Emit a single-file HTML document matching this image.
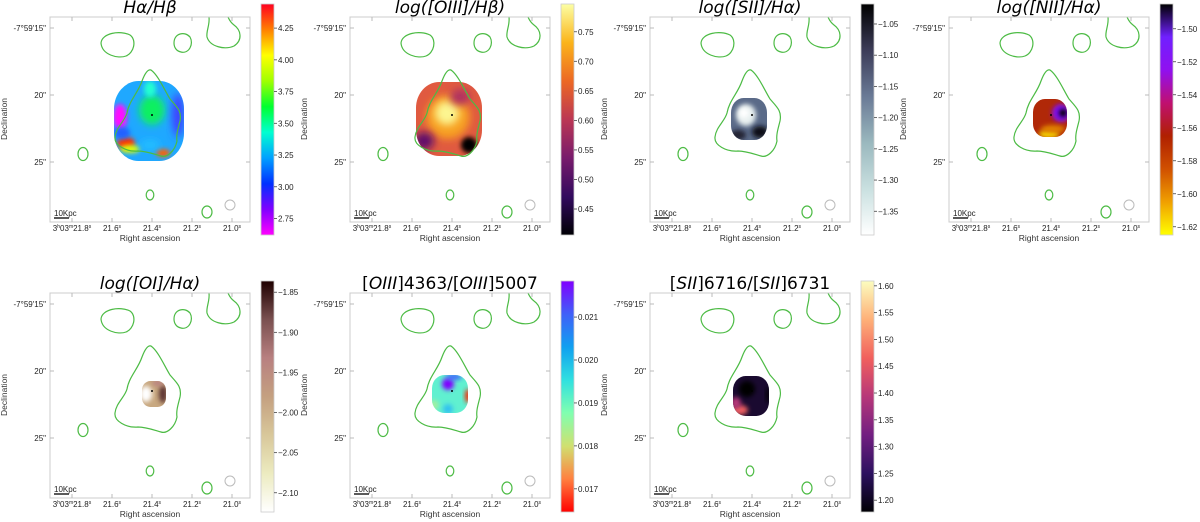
<!DOCTYPE html>
<html><head><meta charset="utf-8"><style>
html,body{margin:0;padding:0;background:#fff;}
svg{display:block;font-family:"Liberation Sans","DejaVu Sans",sans-serif;}
</style></head><body>
<svg id="fig" width="1200" height="522" viewBox="0 0 1200 522" xmlns="http://www.w3.org/2000/svg">
<defs>
<filter id="blur" x="-50%" y="-50%" width="200%" height="200%"><feGaussianBlur stdDeviation="4"/></filter>
<filter id="blur2" x="-50%" y="-50%" width="200%" height="200%"><feGaussianBlur stdDeviation="2.5"/></filter>
</defs>
</svg>
<script>
// ----- chart data -----
const panelTitles = ["Hα/Hβ","log([OIII]/Hβ)","log([SII]/Hα)","log([NII]/Hα)","log([OI]/Hα)","[OIII]4363/[OIII]5007","[SII]6716/[SII]6731"];
const panelX = [50,350,650,949,50,350,650];
const panelY = [17,17,17,17,293,293,293];
const cbarRanges = [[2.62,4.44],[0.406,0.797],[-1.388,-1.018],[-1.625,-1.485],[-2.124,-1.836],[0.01646,0.02184],[1.178,1.609]];
const cbarTicks = [
  [2.75,3.00,3.25,3.50,3.75,4.00,4.25],
  [0.45,0.50,0.55,0.60,0.65,0.70,0.75],
  [-1.35,-1.30,-1.25,-1.20,-1.15,-1.10,-1.05],
  [-1.62,-1.60,-1.58,-1.56,-1.54,-1.52,-1.50],
  [-2.10,-2.05,-2.00,-1.95,-1.90,-1.85],
  [0.017,0.018,0.019,0.020,0.021],
  [1.20,1.25,1.30,1.35,1.40,1.45,1.50,1.55,1.60]
];
const cbarDecimals = [2,2,2,2,2,3,2];
const cmaps = [
  ["#ff00ff","#8000ff","#0030ff","#00a0ff","#00ffd0","#00ff30","#a0ff00","#ffff00","#ff8000","#ff0020"],
  ["#000004","#320a5e","#781b6c","#bb3754","#ec6824","#fbb41a","#fcffa4"],
  ["#ffffff","#c9e0e0","#9ab8be","#6a7a96","#3c3c58","#000000"],
  ["#ffff00","#f0a000","#d05000","#b02000","#c01070","#9010f0","#7020ff","#000000"],
  ["#ffffff","#ecebc0","#d8c79a","#c4a080","#b88080","#7a5050","#1e0000"],
  ["#ff0000","#ff8040","#d0e070","#80ffb0","#30e0e0","#10a0f0","#4060f8","#8000ff"],
  ["#000004","#2c115f","#721f81","#b73779","#f1605d","#feb078","#fcfdbf"]
];
const xTickVals = [21.8,21.6,21.4,21.2,21.0];
const yTickVals = [15,20,25];
function xs(v){return 22 + (21.8 - v)/0.8*160;}
function ys(v){return 11 + (v-15)/10*134;}

const NS="http://www.w3.org/2000/svg";
const svg=document.getElementById('fig');
function mk(tag,attrs,parent){const e=document.createElementNS(NS,tag);for(const k in attrs)e.setAttribute(k,attrs[k]);(parent||svg).appendChild(e);return e;}
const defs=svg.querySelector('defs');

cmaps.forEach((c,i)=>{
  const g=mk('linearGradient',{id:'cm'+i,x1:0,y1:1,x2:0,y2:0},defs);
  c.forEach((col,j)=>mk('stop',{offset:(j/(c.length-1)),'stop-color':col},g));
});

const blobs = [
  {clip:[99,104,35,40],base:"#1fa8ff",spots:[[102,93,13,15,"#10f060","blur"],[100,72,6,8,"#20ffd0","blur2"],[70,100,7,13,"#ff10ff","blur2"],[76,126,9,6,"#ff3000","blur2"],[80,132,10,4,"#e0ff00","blur2"],[113,136,7,4,"#ff6000","blur2"],[128,98,6,22,"#4040ff","blur"],[72,116,8,6,"#2060ff","blur2"],[100,128,10,5,"#20c0ff","blur"]]},
  {clip:[99,102,33,37],base:"#e05a40",spots:[[98,100,22,22,"#f7a020","blur"],[97,96,12,12,"#fcf590","blur"],[74,124,10,9,"#60106a","blur"],[119,128,8,8,"#000004","blur2"],[110,80,10,8,"#b03060","blur"]]},
  {clip:[99,102,18,21],base:"#5a6a88",spots:[[96,98,10,11,"#e8f0f0","blur2"],[94,96,5,5,"#ffffff","blur2"],[110,115,8,6,"#101018","blur2"],[88,118,8,5,"#202030","blur2"]]},
  {clip:[101,101,17,19],base:"#b02808",spots:[[112,96,9,9,"#8010f0","blur2"],[114,96,4,4,"#000000","blur2"],[100,117,10,4,"#f8e000","blur2"],[104,112,12,4,"#e08000","blur2"]]},
  {clip:[104,101,12,13],base:"#c8a880",spots:[[96,101,6,8,"#ffffff","blur2"],[113,101,4,9,"#5a3030","blur2"],[108,90,6,3,"#b88080","blur2"]]},
  {clip:[100,101,18,19],base:"#60f0d0",spots:[[98,91,6,6,"#8000ff","blur2"],[104,84,8,3,"#4060ff","blur2"],[118,103,3,7,"#ff2000","blur2"],[98,116,5,5,"#30c0f0","blur2"],[84,112,5,5,"#a0f0a0","blur2"]]},
  {clip:[101,103,18,20],base:"#1a0a30",spots:[[90,117,8,5,"#f06060","blur2"],[86,110,5,6,"#b73779","blur2"],[97,96,8,8,"#000004","blur2"],[118,102,2,8,"#000000","blur2"]]}
];

const cbarX=[261,561,861,1160,261,561,861];
const cbarTop=[4,4,4,4,281,281,281];
const cbarH=231;

panelTitles.forEach((title,i)=>{
  const g=mk('g',{transform:`translate(${panelX[i]},${panelY[i]})`});
  
  
  const cp=mk('clipPath',{id:'clip'+i},defs);
  const b=blobs[i];
  mk('rect',{x:b.clip[0]-b.clip[2],y:b.clip[1]-b.clip[3],width:2*b.clip[2],height:2*b.clip[3],rx:b.clip[2]*0.7,ry:b.clip[3]*0.7},cp);
  const mg=mk('g',{'clip-path':`url(#clip${i})`},g);
  
  
  mk('rect',{x:0,y:0,width:200,height:205,fill:b.base},mg);
  b.spots.forEach(s=>mk('ellipse',{cx:s[0],cy:s[1],rx:s[2],ry:s[3],fill:s[4],filter:`url(#${s[5]})`},mg));
  mk('circle',{cx:102,cy:98,r:1,fill:'#000'},g);
  const cg=mk('g',{fill:'none',stroke:'#4cbb44','stroke-width':1.2},g);
  
  
  mk('path',{d:'M51,26 C52,16 70,13 80,18 C87,23 84,36 76,39 C68,42 52,38 51,26Z'},cg);
  mk('path',{d:'M124,26 C124,16 135,14 140,20 C144,27 139,37 131,35 C126,34 124,30 124,26Z'},cg);
  mk('path',{d:'M159,0 C160,8 156,14 157,20 C160,30 175,33 184,29 C193,23 191,13 184,8 C180,5 179,2 178,0'},cg);
  mk('path',{d:'M101,53 C108,58 114,72 120,82 C127,90 132,94 130,104 C128,112 126,118 127,124 C125,134 117,141 111,139 C104,137 96,134 88,134 C76,135 64,128 65,120 C66,110 75,104 77,96 C79,84 88,76 92,64 C95,56 98,52 101,53Z'},cg);
  mk('ellipse',{cx:33,cy:137,rx:5,ry:6.5},cg);
  mk('ellipse',{cx:100,cy:178,rx:3.8,ry:5},cg);
  mk('ellipse',{cx:157,cy:195,rx:5,ry:6},cg);
  const beam=mk('circle',{cx:180,cy:188,r:5,fill:'none',stroke:'#bbb','stroke-width':1},g);
  
  
  const sb=mk('line',{x1:4,y1:201,x2:19,y2:201,stroke:'#000','stroke-width':1.3},g);
  
  
  const st=mk('text',{x:4,y:199,'font-size':8,fill:'#222'},g);st.textContent='10Kpc';
  
  
  const fr=mk('rect',{x:0,y:0,width:200,height:205,fill:'none',stroke:'#ccc','stroke-width':1},g);
  
  
  xTickVals.forEach((v,k)=>{
    const x=xs(v);
    mk('line',{x1:x,y1:205,x2:x,y2:201,stroke:'#bbb'},g);
    mk('line',{x1:x,y1:0,x2:x,y2:4,stroke:'#bbb'},g);
    const t=mk('text',{x:x,y:214,'font-size':8,'text-anchor':'middle',fill:'#222'},g);
    
    
    const s=v.toFixed(1).split('.');
    if(k===0){t.innerHTML='3<tspan font-size="5" dy="-3">h</tspan><tspan dy="3">03</tspan><tspan font-size="5" dy="-3">m</tspan><tspan dy="3">21.8</tspan><tspan font-size="5" dy="-3">s</tspan>';}
    else{t.innerHTML=s[0]+'.'+s[1]+'<tspan font-size="5" dy="-3">s</tspan>';}
  });
  yTickVals.forEach((v,k)=>{
    const y=ys(v);
    mk('line',{x1:0,y1:y,x2:4,y2:y,stroke:'#bbb'},g);
    mk('line',{x1:200,y1:y,x2:196,y2:y,stroke:'#bbb'},g);
    const t=mk('text',{x:-4,y:y+3,'font-size':8,'text-anchor':'end',fill:'#222'},g);
    
    
    t.textContent = k===0 ? "-7°59'15\"" : v+'"';
  });
  const xl=mk('text',{x:100,y:224,'font-size':8.5,'text-anchor':'middle',fill:'#333'},g);xl.textContent='Right ascension';
  
  
  const yl=mk('text',{x:0,y:0,'font-size':8.5,'text-anchor':'middle',fill:'#333',transform:'translate(-43,102) rotate(-90)'},g);yl.textContent='Declination';
  
  
  const tt=mk('text',{x:100,y:-4,'font-size':17,'text-anchor':'middle',fill:'#000','font-family':'"DejaVu Sans","Liberation Sans",sans-serif'},g);
  
  
  if(i<5){tt.setAttribute('font-style','italic');tt.textContent=title;}
  else if(i===5){tt.innerHTML='[<tspan font-style="italic">OIII</tspan>]4363/[<tspan font-style="italic">OIII</tspan>]5007';}
  else {tt.innerHTML='[<tspan font-style="italic">SII</tspan>]6716/[<tspan font-style="italic">SII</tspan>]6731';}

  const cb=mk('g',{});
  
  
  const cx=cbarX[i], ct=cbarTop[i];
  mk('rect',{x:cx,y:ct,width:13,height:cbarH,fill:`url(#cm${i})`,stroke:'#ccc','stroke-width':0.8},cb);
  const [lo,hi]=cbarRanges[i];
  cbarTicks[i].forEach(v=>{
    const y=ct+cbarH*(hi-v)/(hi-lo);
    mk('line',{x1:cx+13,y1:y,x2:cx+16,y2:y,stroke:'#444','stroke-width':0.8},cb);
    const t=mk('text',{x:cx+17,y:y+3,'font-size':8,fill:'#222'},cb);
    
    
    t.textContent=v.toFixed(cbarDecimals[i]).replace('-','−');
  });
});
</script>
</body></html>
